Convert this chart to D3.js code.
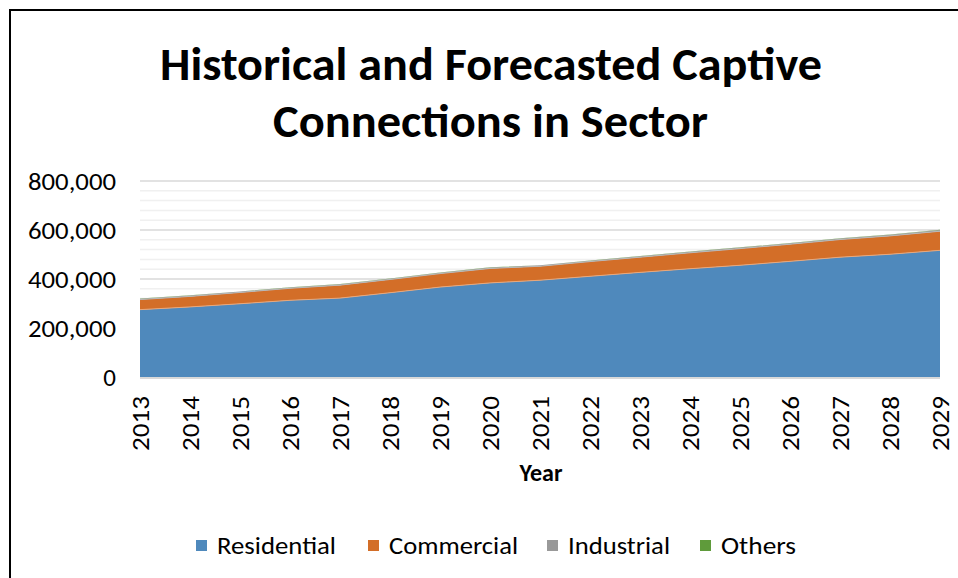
<!DOCTYPE html>
<html>
<head>
<meta charset="utf-8">
<script src="https://cdn.jsdelivr.net/npm/d3@7"></script>
<style>
  body { margin: 0; background: #fff; }
  svg { display: block; }
  text { font-family: Carlito, "Liberation Sans Narrow", "Open Sans", sans-serif; }
</style>
</head>
<body>
<script>
// values
const years = [2013,2014,2015,2016,2017,2018,2019,2020,2021,2022,2023,2024,2025,2026,2027,2028,2029]
const residential = [275000,286000,299000,313000,322000,344000,367000,384000,395000,411000,427000,442000,456000,472000,489000,501000,517000]
const commercial  = [41000,43000,46000,49000,53000,54000,55000,59000,57000,60000,62000,65000,68000,70000,72000,75000,78000]
const industrial  = [3500,3500,3500,3500,3500,3500,3500,3600,3700,3800,3900,4000,4100,4200,4300,4400,4500]
const others      = [800,800,800,800,800,800,800,900,900,900,1000,1000,1000,1100,1100,1200,1200]
const yTicks = [0,200000,400000,600000,800000]
const seriesNames = ["Residential","Commercial","Industrial","Others"]
const colors = ["#4f89bc","#d36e28","#999999","#5f9b3b"]

const W = 958, H = 578
const margin = {left:140, right:18, top:181, bottom:201}

const table = years.map((y,i)=>({year:y, Residential:residential[i], Commercial:commercial[i], Industrial:industrial[i], Others:others[i]}))

const svg = d3.select("body").append("svg")
  .attr("width", W)
  .attr("height", H)

// outer frame (runs off right and bottom)
svg.append("rect")
  .attr("x", 10).attr("y", 10)
  .attr("width", W).attr("height", H)
  .attr("fill", "none")
  .attr("stroke", "#000")
  .attr("stroke-width", 2)

const x = d3.scaleLinear()
  .domain([2013, 2029])
  .range([margin.left, W - margin.right])

const y = d3.scaleLinear()
  .domain([0, 800000])
  .range([H - margin.bottom, margin.top])

// minor gridlines
svg.append("g")
  .selectAll("line")
  .data(d3.range(0, 800001, 40000).filter(v => v % 200000 !== 0))
  .enter().append("line")
  .attr("x1", x(2013)).attr("x2", x(2029))
  .attr("y1", d => y(d)).attr("y2", d => y(d))
  .attr("stroke", "#f0f0f0")
  .attr("stroke-width", 1.5)

// major gridlines
svg.append("g")
  .selectAll("line")
  .data(yTicks.slice(1))
  .enter().append("line")
  .attr("x1", x(2013)).attr("x2", x(2029))
  .attr("y1", d => y(d)).attr("y2", d => y(d))
  .attr("stroke", "#d9d9d9")
  .attr("stroke-width", 1.5)

const stack = d3.stack().keys(seriesNames)
const layers = stack(table)

const area = d3.area()
  .x(d => x(d.data.year))
  .y0(d => y(d[0]))
  .y1(d => y(d[1]))

svg.append("g")
  .selectAll("path")
  .data(layers)
  .enter().append("path")
  .attr("d", area)
  .attr("fill", (d,i) => colors[i])

// thin light edge on top of each layer, like the original
const topLine = d3.line()
  .x(d => x(d.data.year))
  .y(d => y(d[1]))
svg.append("g")
  .selectAll("path")
  .data(layers.slice(0,2))
  .enter().append("path")
  .attr("d", topLine)
  .attr("fill", "none")
  .attr("stroke", (d,i) => i == 0 ? "#e8a87c" : "#b9b9b9")
  .attr("stroke-width", 1)

// x axis line
svg.append("line")
  .attr("x1", x(2013)).attr("x2", x(2029))
  .attr("y1", y(0)+1).attr("y2", y(0)+1)
  .attr("stroke", "#d9d9d9")
  .attr("stroke-width", 2)

// y axis labels
const yAxis = d3.axisLeft(y).tickValues(yTicks).tickSize(0).tickPadding(24)
  .tickFormat(d3.format(","))
svg.append("g")
  .attr("transform", "translate(" + margin.left + ",0)")
  .call(yAxis)
  .call(g => g.select(".domain").remove())
  .selectAll("text")
  .attr("font-size", 25)
  .attr("fill", "#000")
  .attr("font-family", "Carlito, 'Liberation Sans Narrow', sans-serif")
  .each(function(d){ if (d > 0) d3.select(this).attr("textLength", 88).attr("lengthAdjust", "spacingAndGlyphs") })

// x axis labels
const xAxis = d3.axisBottom(x).tickValues(years).tickSize(0).tickFormat(d3.format("d"))
svg.append("g")
  .attr("transform", "translate(0," + y(0) + ")")
  .call(xAxis)
  .call(g => g.select(".domain").remove())
  .selectAll("text")
  .attr("font-size", 25)
  .attr("fill", "#000")
  .attr("font-family", "Carlito, 'Liberation Sans Narrow', sans-serif")
  .attr("transform", "rotate(-90)")
  .attr("text-anchor", "end")
  .attr("x", -19)
  .attr("y", 0)
  .attr("dy", "0.35em")
  .attr("textLength", 55)
  .attr("lengthAdjust", "spacingAndGlyphs")

// axis title
svg.append("text")
  .attr("x", 541).attr("y", 481)
  .attr("text-anchor", "middle")
  .attr("font-size", 24)
  .attr("font-weight", "bold")
  .text("Year")

// chart title
const title = svg.append("g").attr("font-weight", "bold").attr("font-size", 46)
title.append("text")
  .attr("x", 160).attr("y", 80)
  .attr("textLength", 662).attr("lengthAdjust", "spacingAndGlyphs")
  .text("Historical and Forecasted Captive")
title.append("text")
  .attr("x", 273).attr("y", 137)
  .attr("textLength", 435).attr("lengthAdjust", "spacingAndGlyphs")
  .text("Connections in Sector")

// legend
const legendX = [196, 368, 547, 700]
const legendW = [119, 129, 102, 75]
const legend = svg.append("g")
  .selectAll("g")
  .data(seriesNames)
  .enter().append("g")
  .attr("transform", (d,i) => "translate(" + legendX[i] + ",540)")
legend.append("rect")
  .attr("width", 11).attr("height", 11)
  .attr("fill", (d,i) => colors[i])
legend.append("text")
  .attr("x", 21).attr("y", 6)
  .attr("dy", "0.35em")
  .attr("font-size", 24)
  .attr("textLength", (d,i) => legendW[i])
  .attr("lengthAdjust", "spacingAndGlyphs")
  .text(d => d)
</script>
</body>
</html>
